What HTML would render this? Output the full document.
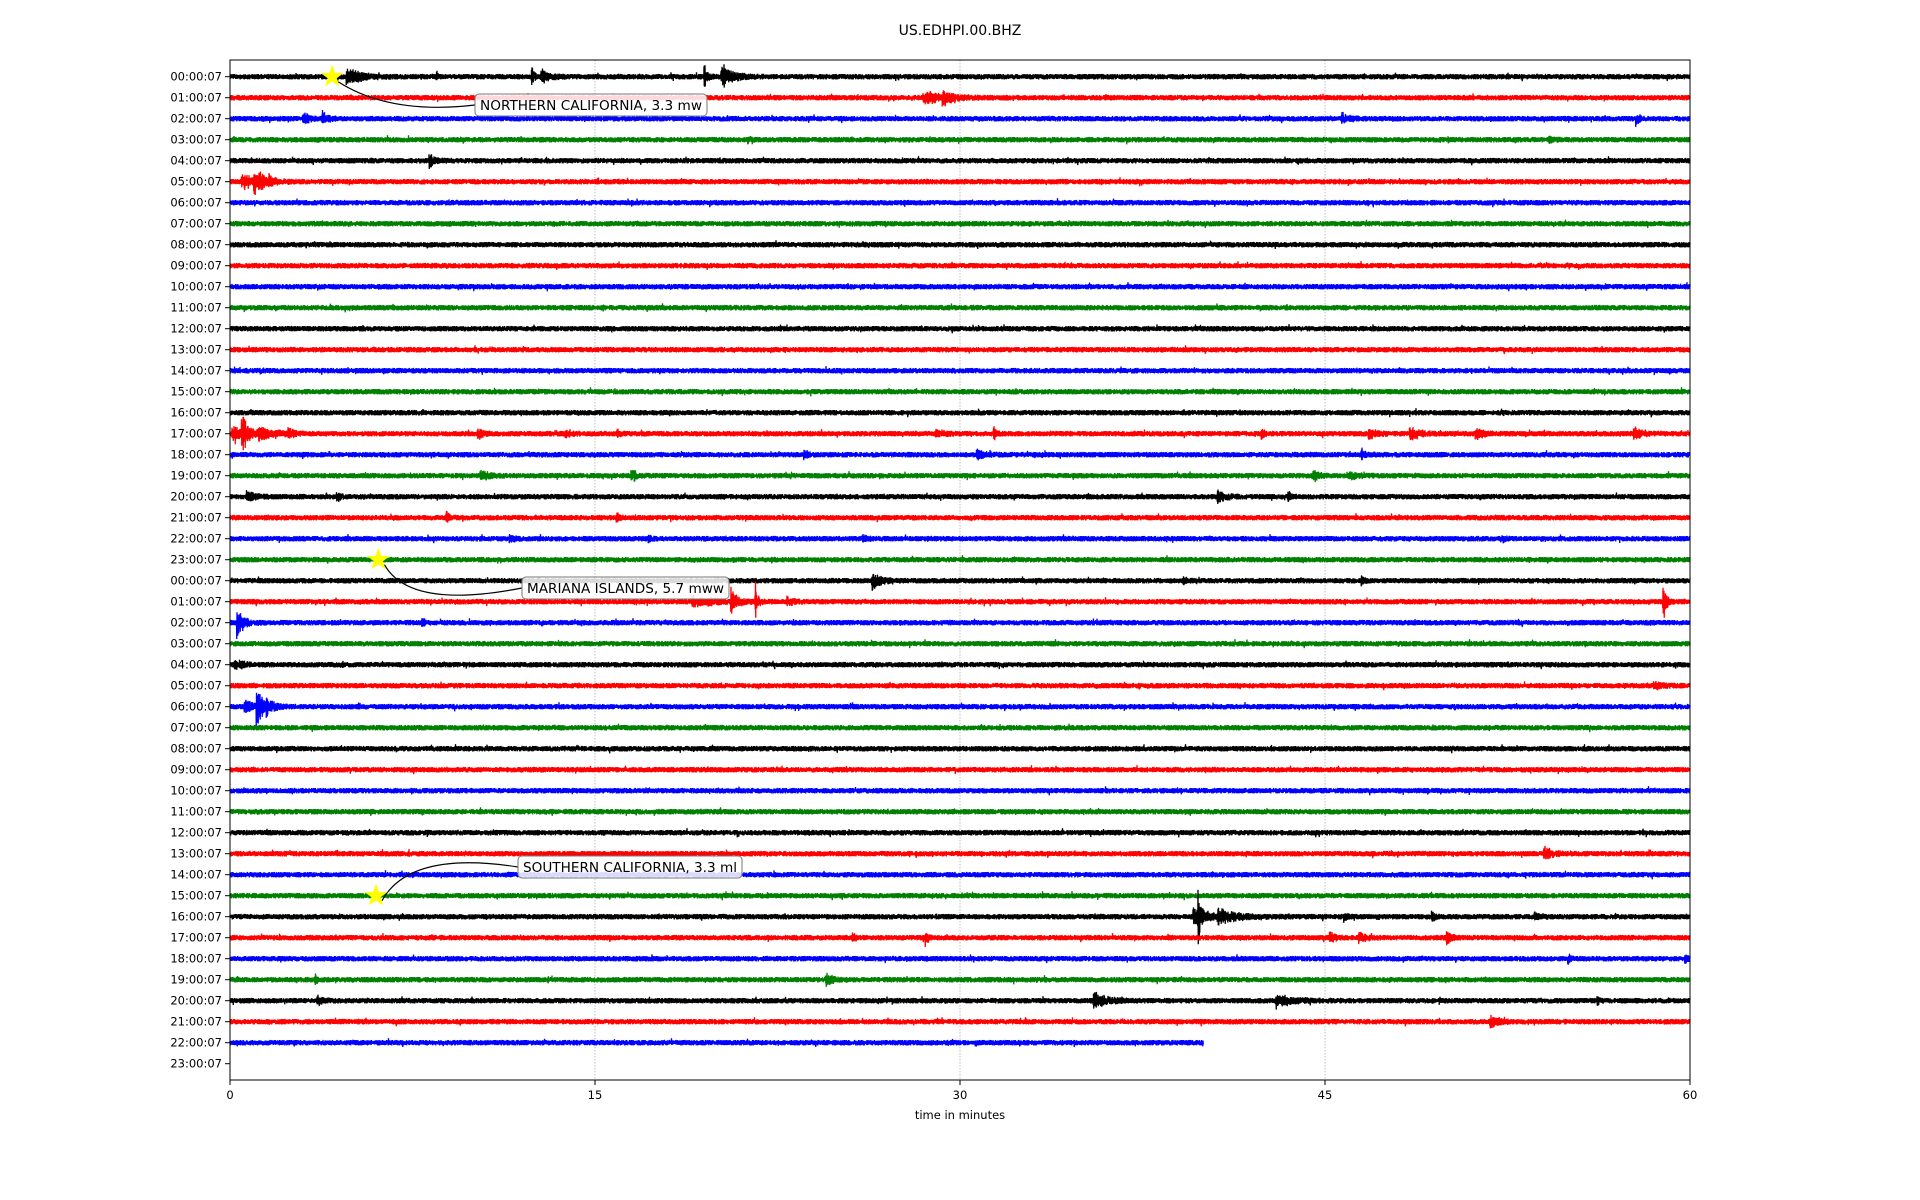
<!DOCTYPE html>
<html><head><meta charset="utf-8">
<style>
html,body{margin:0;padding:0;background:#fff;}
svg{display:block;font-family:"DejaVu Sans","Liberation Sans",sans-serif;}
</style></head>
<body>
<svg id="s" width="1920" height="1200" xmlns="http://www.w3.org/2000/svg">
<rect width="1920" height="1200" fill="#fff"/>
<text x="960" y="35" font-size="14" text-anchor="middle">US.EDHPI.00.BHZ</text>
<g id="grid"></g>
<g id="traces"></g>
<rect x="230" y="60" width="1460" height="1020" fill="none" stroke="#000" stroke-width="1"/>
<g id="ticks" font-size="11.5"></g>
<text x="960" y="1119" font-size="11.5" text-anchor="middle">time in minutes</text>
<g id="ann"></g>
</svg>
<script>
var NS="http://www.w3.org/2000/svg";
function el(t,a,p,txt){var e=document.createElementNS(NS,t);for(var k in a)e.setAttribute(k,a[k]);if(txt)e.textContent=txt;p.appendChild(e);return e;}
var L=230,R=1690,T=60,B=1080,W=R-L;
function X(m){return L+m/60*W;}
function Y(i){return 76.7+21*i;}
var seed=12345;function rnd(){seed=(seed*16807)%2147483647;return seed/2147483647;}
var grid=document.getElementById('grid'),tr=document.getElementById('traces'),tk=document.getElementById('ticks'),ann=document.getElementById('ann');
[15,30,45].forEach(function(m){el('line',{x1:X(m),x2:X(m),y1:T,y2:B,stroke:'#b0b0b0','stroke-width':0.8,'stroke-dasharray':'1.5,1.5'},grid);});
[0,15,30,45,60].forEach(function(m){el('line',{x1:X(m),x2:X(m),y1:B,y2:B+5,stroke:'#000'},tk);el('text',{x:X(m),y:B+19,'text-anchor':'middle'},tk,String(m));});
var cols=['#000','#f00','#00f','#008000'];
for(var i=0;i<48;i++){var h=i%24;var lab=(h<10?'0':'')+h+':00:07';
el('line',{x1:L-5,x2:L,y1:Y(i),y2:Y(i),stroke:'#000'},tk);
el('text',{x:L-8,y:Y(i)+4,'text-anchor':'end'},tk,lab);}
var ev={0:[[4.8,9,0.5],[8.5,5,0.05],[12.4,11,0.08],[12.8,7,0.3],[19.5,13,0.1],[20.2,13,0.4]],
1:[[28.5,6,0.8],[29.3,7,0.3]],2:[[3,7,0.2],[3.8,7,0.2],[45.7,5,0.3],[57.8,8,0.1]],
3:[[21.3,3,0.1],[54.2,3,0.2]],4:[[8.2,7,0.2]],5:[[0.5,8,0.5],[1.0,16,0.3],[1.6,5,0.2]],
17:[[0.1,8,0.6],[0.5,20,0.2],[1.2,5,0.6],[2.4,5,0.2],[10.2,5,0.2],[13.8,4,0.2],[15.9,5,0.1],[29,4,0.3],[31.4,8,0.1],[42.4,6,0.1],[46.8,5,0.3],[48.5,6,0.4],[51.2,6,0.3],[57.7,7,0.3]],
18:[[23.6,7,0.1],[30.7,5,0.3],[46.5,6,0.1]],19:[[10.3,5,0.3],[16.5,7,0.2],[44.5,7,0.2],[46,4,0.3]],
20:[[0.7,5,0.3],[4.4,6,0.1],[40.6,6,0.3],[43.5,6,0.1]],21:[[8.9,6,0.1],[15.9,5,0.1]],
22:[[11.5,3,0.2],[17.2,3,0.1],[26,3,0.2],[52.3,3,0.1]],
24:[[26.4,9,0.3],[39.2,4,0.1],[46.5,4,0.1]],25:[[19,5,1],[20.6,14,0.2],[21.6,20,0.08],[22.9,5,0.2],[58.9,24,0.1]],
26:[[0.3,15,0.25],[7.9,5,0.1]],28:[[0.2,6,0.3]],29:[[58.5,4,0.3]],30:[[0.6,7,0.3],[1.1,26,0.2],[1.5,7,0.3]],
37:[[54,7,0.3]],40:[[39.6,9,0.6],[39.8,24,0.1],[40.6,7,0.7],[45.8,4,0.1],[49.4,5,0.1],[53.6,5,0.2]],
41:[[25.6,5,0.1],[28.6,9,0.1],[45.2,5,0.2],[46.4,6,0.2],[50,6,0.2]],42:[[55,5,0.1],[59.8,6,0.1]],
43:[[3.5,5,0.1],[24.5,5,0.3]],44:[[3.6,5,0.2],[35.5,8,0.5],[43,7,0.6],[56.2,4,0.1]],45:[[51.8,7,0.3]]};
for(var i=0;i<47;i++){
  var y0=Y(i),end=(i==46)?40:60,n=Math.round(end/60*W*4),pts=[],e=ev[i]||[];
  for(var k=0;k<=n;k++){var x=L+k/4,m=(x-L)/W*60;
    var a=2.8+(rnd()<0.008?1.8:0);
    for(var j=0;j<e.length;j++){var dt=m-e[j][0];if(dt>=-0.03&&dt<e[j][2]*5){a+=e[j][1]*Math.exp(-Math.max(dt,0)/e[j][2])*(0.4+rnd()*0.6);}}
    var v=(k%2?1:-1)*a*(0.3+rnd()*0.7);pts.push(x.toFixed(2)+','+(y0+v).toFixed(1));}
  el('polyline',{points:pts.join(' '),fill:'none',stroke:cols[i%4],'stroke-width':1.3},tr);
}
function star(cx,cy){var p=[];for(var k=0;k<10;k++){var r=k%2?4.2:10.5,a=-Math.PI/2+k*Math.PI/5;p.push((cx+r*Math.cos(a)).toFixed(1)+','+(cy+r*Math.sin(a)).toFixed(1));}
el('polygon',{points:p.join(' '),fill:'#ff0',stroke:'#ff0'},ann);}
function box(x,y,w,h,t,sx,sy,cx,cy){
 el('path',{d:'M'+(sx+6)+','+(sy+5)+' Q'+cx+','+cy+' '+x+','+(y+h/2),fill:'none',stroke:'#000','stroke-width':1.2},ann);
 el('rect',{x:x,y:y,width:w,height:h,rx:4,fill:'#fff','fill-opacity':0.85,stroke:'#777','stroke-width':1},ann);
 el('text',{x:x+w/2,y:y+h/2+5,'text-anchor':'middle','font-size':13.5,textLength:w-10,lengthAdjust:'spacingAndGlyphs'},ann,t);
 star(sx,sy);}
box(475,94,232,22,'NORTHERN CALIFORNIA, 3.3 mw',X(4.2),Y(0),390,115);
box(522,577,207,22,'MARIANA ISLANDS, 5.7 mww',X(6.1),Y(23),410,610);
box(518,856,224,22,'SOUTHERN CALIFORNIA, 3.3 ml',X(6.0),Y(39),410,850);
</script>
</body></html>
